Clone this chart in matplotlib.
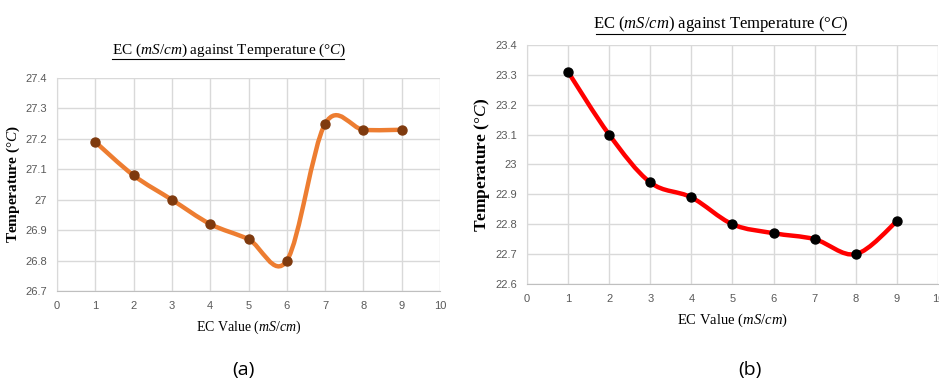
import numpy as np
import matplotlib
matplotlib.use("Agg")
import matplotlib.pyplot as plt
from matplotlib.path import Path
from matplotlib.patches import PathPatch

ec = [1, 2, 3, 4, 5, 6, 7, 8, 9]
temp_a = [27.19, 27.08, 27.00, 26.92, 26.87, 26.80, 27.25, 27.23, 27.23]
temp_b = [23.31, 23.10, 22.94, 22.89, 22.80, 22.77, 22.75, 22.70, 22.81]
ticks_a = [26.7, 26.8, 26.9, 27.0, 27.1, 27.2, 27.3, 27.4]
ticks_b = [22.6, 22.7, 22.8, 22.9, 23.0, 23.1, 23.2, 23.3, 23.4]
tick_labels_a = ["26.7", "26.8", "26.9", "27", "27.1", "27.2", "27.3", "27.4"]
tick_labels_b = ["22.6", "22.7", "22.8", "22.9", "23", "23.1", "23.2", "23.3", "23.4"]

serif = ["Liberation Serif", "DejaVu Serif"]
tickfont = ["Liberation Sans Narrow", "Liberation Sans", "DejaVu Sans"]


def smooth_path(x, y):
    # excel-like smoothed line: cubic bezier, control points from neighbours
    x = np.asarray(x, float)
    y = np.asarray(y, float)
    n = len(x)
    verts = [(x[0], y[0])]
    codes = [Path.MOVETO]
    for i in range(n - 1):
        p0 = np.array([x[max(i - 1, 0)], y[max(i - 1, 0)]])
        p1 = np.array([x[i], y[i]])
        p2 = np.array([x[i + 1], y[i + 1]])
        p3 = np.array([x[min(i + 2, n - 1)], y[min(i + 2, n - 1)]])
        c1 = p1 + (p2 - p0) / 6
        c2 = p2 - (p3 - p1) / 6
        verts += [tuple(c1), tuple(c2), tuple(p2)]
        codes += [Path.CURVE4] * 3
    return Path(verts, codes)


def draw(ax, y, ticks, labels, lc, mc, xl_size, yl_size, yl_x):
    ax.add_patch(PathPatch(smooth_path(ec, y), fill=False, edgecolor=lc,
                           lw=3.2, capstyle="round", joinstyle="round", zorder=3))
    ax.scatter(ec, y, s=42, color=mc, zorder=4)
    ax.set_xlim(0, 10)
    ax.set_ylim(ticks[0], ticks[-1])
    ax.set_xticks(range(11))
    ax.set_yticks(ticks)
    ax.set_yticklabels(labels)
    ax.grid(True, color="#d9d9d9", lw=1)
    ax.set_axisbelow(True)
    for s in ax.spines.values():
        s.set_visible(False)
    ax.spines["bottom"].set_visible(True)
    ax.spines["left"].set_visible(True)
    ax.spines["bottom"].set_color("#bfbfbf")
    ax.spines["left"].set_color("#d9d9d9")
    ax.tick_params(length=0, labelsize=8, colors="#595959", pad=7)
    for t in ax.get_xticklabels() + ax.get_yticklabels():
        t.set_family(tickfont)
    ax.set_xlabel("EC Value ($\\mathit{mS/cm}$)", family=serif, fontsize=xl_size, labelpad=6)
    ax.set_ylabel("Temperature ($\\degree\\mathit{C}$)", family=serif,
                  fontsize=yl_size, fontweight="bold", va="center")
    ax.yaxis.set_label_coords(yl_x, 0.5)


plt.rcParams["mathtext.fontset"] = "custom"
plt.rcParams["mathtext.it"] = "Liberation Serif:italic"
plt.rcParams["mathtext.rm"] = "Liberation Serif"

fig = plt.figure(figsize=(9.39, 3.83), dpi=100)
ax1 = fig.add_axes([0.0607, 0.2402, 0.408, 0.556])
ax2 = fig.add_axes([0.5612, 0.2585, 0.4377, 0.624])

draw(ax1, temp_a, ticks_a, tick_labels_a, "#ed7d31", "#7f3a0e", 10, 11, -0.113)
draw(ax2, temp_b, ticks_b, tick_labels_b, "#ff0000", "#000000", 10.5, 12.5, -0.11)

fig.text(0.2445, 0.869, "EC ($\\mathit{mS/cm}$) against Temperature ($\\degree\\mathit{C}$)",
         ha="center", va="center", family=serif, fontsize=11)
fig.text(0.767, 0.937, "EC ($\\mathit{mS/cm}$) against Temperature ($\\degree\\mathit{C}$)",
         ha="center", va="center", family=serif, fontsize=12)
fig.lines.append(plt.Line2D([0.119, 0.366], [0.845, 0.845], color="k", lw=0.8,
                            transform=fig.transFigure))
fig.lines.append(plt.Line2D([0.635, 0.900], [0.912, 0.912], color="k", lw=0.8,
                            transform=fig.transFigure))

fig.text(0.259, 0.034, "(a)", ha="center", va="center", family=["Open Sans", "DejaVu Sans"], fontsize=14)
fig.text(0.799, 0.034, "(b)", ha="center", va="center", family=["Open Sans", "DejaVu Sans"], fontsize=14)

fig.savefig("out.png", dpi=100)
